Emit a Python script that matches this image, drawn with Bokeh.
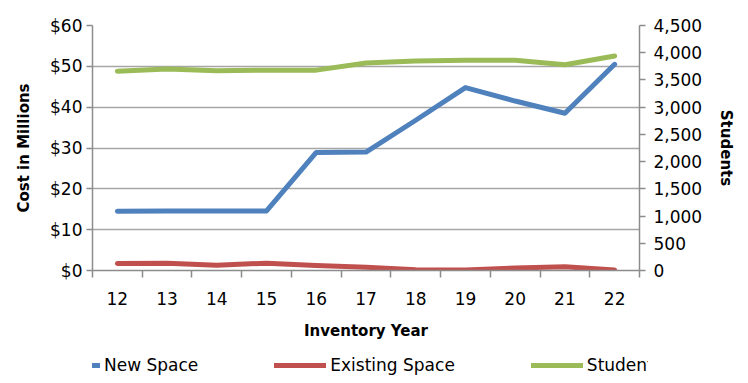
from bokeh.plotting import figure
from bokeh.layouts import column
from bokeh.models import (Range1d, LinearAxis, FixedTicker, NumeralTickFormatter,
                          Legend, LegendItem, ColumnDataSource)
from bokeh.embed import file_html
from bokeh.resources import INLINE

years = [12, 13, 14, 15, 16, 17, 18, 19, 20, 21, 22]
new_space = [14.5, 14.6, 14.6, 14.6, 28.9, 29.0, 36.8, 44.8, 41.5, 38.5, 50.5]
existing_space = [1.7, 1.8, 1.3, 1.8, 1.2, 0.8, 0.2, 0.1, 0.6, 0.9, 0.1]
students = [3660, 3700, 3670, 3680, 3680, 3810, 3850, 3860, 3860, 3780, 3940]

left_ticks = [0, 10, 20, 30, 40, 50, 60]
right_ticks = [0, 500, 1000, 1500, 2000, 2500, 3000, 3500, 4000, 4500]

series_names = ["New Space", "Existing Space", "Students"]
series_cols = ["new", "ex", "st"]
series_colors = ["#4F81BD", "#C0504D", "#9BBB59"]

FONT = "DejaVu Sans"
AXIS_COL = "#8c8c8c"

src = ColumnDataSource(dict(x=years, new=new_space, ex=existing_space, st=students))

p = figure(frame_width=547, frame_height=245, output_backend="svg", toolbar_location=None,
           x_range=Range1d(11.5, 22.5), y_range=Range1d(0, 60),
           min_border_left=92, min_border_right=100, min_border_top=25, min_border_bottom=78)
p.outline_line_color = None
p.xgrid.grid_line_color = None
p.ygrid.grid_line_color = "#a6a6a6"
p.ygrid.grid_line_width = 1.5
p.ygrid.ticker = FixedTicker(ticks=left_ticks)

p.extra_y_ranges = {"students": Range1d(0, 4500)}

# x axis
xa = p.xaxis[0]
xa.ticker = FixedTicker(ticks=years, minor_ticks=[y - 0.5 for y in years] + [years[-1] + 0.5])
xa.major_tick_out = 0
xa.major_tick_in = 0
xa.minor_tick_out = 7
xa.minor_tick_in = 0
xa.minor_tick_line_color = AXIS_COL
xa.minor_tick_line_width = 1.5
xa.axis_line_color = AXIS_COL
xa.axis_line_width = 1.5
xa.major_label_text_font = FONT
xa.major_label_text_font_size = "17px"
xa.major_label_text_color = "#000000"
xa.major_label_standoff = 14
xa.axis_label = "Inventory Year"
xa.axis_label_text_font = FONT
xa.axis_label_text_font_size = "15px"
xa.axis_label_text_font_style = "bold"
xa.axis_label_text_color = "#000000"
xa.axis_label_standoff = 14

# left axis
ya = p.yaxis[0]
ya.ticker = FixedTicker(ticks=left_ticks)
ya.formatter = NumeralTickFormatter(format="$0")
ya.major_tick_out = 6
ya.major_tick_in = 0
ya.minor_tick_line_color = None
ya.major_tick_line_color = AXIS_COL
ya.major_tick_line_width = 1.5
ya.axis_line_color = AXIS_COL
ya.axis_line_width = 1.5
ya.major_label_text_font = FONT
ya.major_label_text_font_size = "17px"
ya.major_label_text_color = "#000000"
ya.major_label_standoff = 4
ya.axis_label = "Cost in Millions"
ya.axis_label_text_font = FONT
ya.axis_label_text_font_size = "15px"
ya.axis_label_text_font_style = "bold"
ya.axis_label_text_color = "#000000"
ya.axis_label_standoff = 14

# right axis
ra = LinearAxis(y_range_name="students", ticker=FixedTicker(ticks=right_ticks),
                formatter=NumeralTickFormatter(format="0,0"))
ra.major_tick_out = 6
ra.major_tick_in = 0
ra.minor_tick_line_color = None
ra.major_tick_line_color = AXIS_COL
ra.major_tick_line_width = 1.5
ra.axis_line_color = AXIS_COL
ra.axis_line_width = 1.5
ra.major_label_text_font = FONT
ra.major_label_text_font_size = "17px"
ra.major_label_text_color = "#000000"
ra.major_label_standoff = 8
ra.axis_label = "Students"
ra.axis_label_text_font = FONT
ra.axis_label_text_font_size = "15px"
ra.axis_label_text_font_style = "bold"
ra.axis_label_text_color = "#000000"
ra.axis_label_standoff = 12
p.add_layout(ra, "right")

p.line("x", "st", source=src, y_range_name="students", line_color=series_colors[2],
       line_width=5, line_join="round", line_cap="round")
p.line("x", "new", source=src, line_color=series_colors[0], line_width=5,
       line_join="round", line_cap="round")
p.line("x", "ex", source=src, line_color=series_colors[1], line_width=5,
       line_join="round", line_cap="round")

# legend strip below the chart (its series lie outside its visible range)
lg = figure(width=748, height=30, output_backend="svg", toolbar_location=None,
            x_axis_location=None, y_axis_location=None,
            x_range=Range1d(11.5, 22.5), y_range=Range1d(-200, -100),
            min_border_left=0, min_border_right=0, min_border_top=0, min_border_bottom=0)
lg.grid.visible = False
lg.outline_line_color = None
items = []
for name, colname, col in zip(series_names, series_cols, series_colors):
    r = lg.line("x", colname, source=src, line_color=col, line_width=5, line_cap="round")
    items.append(LegendItem(label=name, renderers=[r]))
legend = Legend(items=items, orientation="horizontal", location=(-44, 3))
legend.label_text_font = FONT
legend.label_text_font_size = "17px"
legend.label_text_color = "#000000"
legend.glyph_width = 52
legend.glyph_height = 20
legend.label_standoff = 4
legend.spacing = 76
legend.border_line_color = None
legend.background_fill_alpha = 0
legend.padding = 0
legend.margin = 0
lg.add_layout(legend, "center")

layout = column(p, lg, spacing=0)
open("out.html", "w").write(file_html(layout, INLINE))
